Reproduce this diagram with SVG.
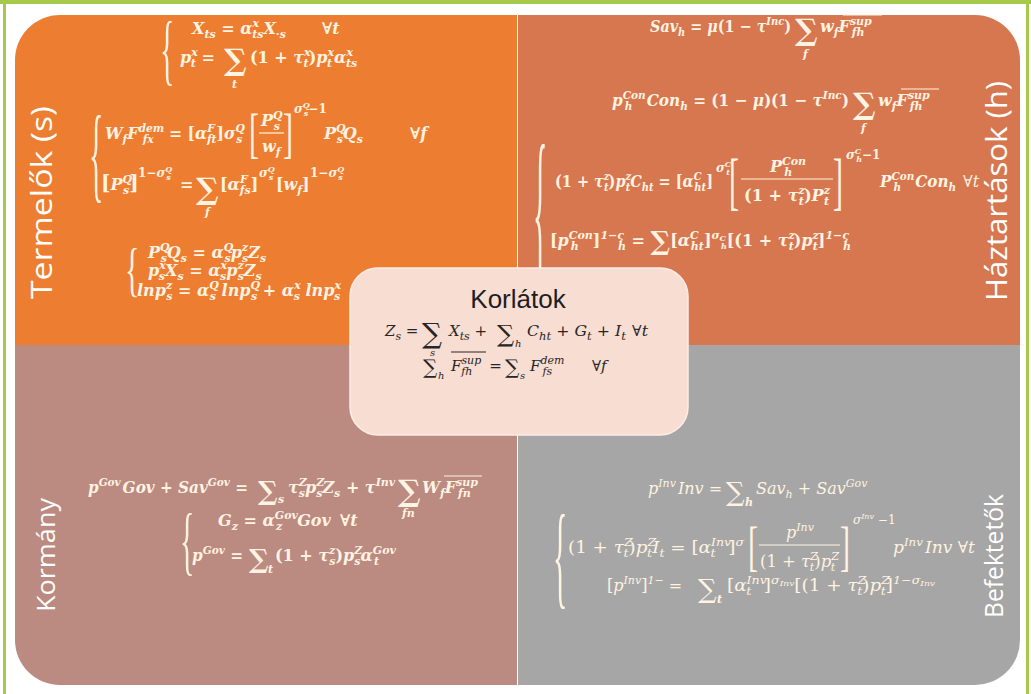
<svg xmlns="http://www.w3.org/2000/svg" width="1031" height="694" viewBox="0 0 1031 694">
<style>
.e{font-family:"DejaVu Serif","Liberation Serif",serif;font-style:italic;font-weight:bold;font-size:16px;fill:#FFF3E2}
.r{font-weight:normal}
.d{fill:#262626;font-weight:normal;font-size:15px}
.u{font-style:normal}
.p{font-size:11px;baseline-shift:7px}
.b{font-size:11px;baseline-shift:-4px}
.pp{font-size:8px;baseline-shift:5px}
.bb{font-size:8px;baseline-shift:-3px}
.sm{font-size:12px}
.S{font-style:normal}
.l{font-family:"DejaVu Serif",serif;font-style:italic;font-weight:bold;font-size:11px;fill:#FFF3E2}
.ld{font-family:"DejaVu Serif",serif;font-style:italic;font-size:10px;fill:#262626}
.br{font-family:"Liberation Serif",serif;font-style:normal;font-weight:normal;font-size:30px;fill:#FFF3E2}
.lab{font-family:"Open Sans","Liberation Sans",sans-serif;font-size:29px;fill:#FFFFFF}
.lab2{font-family:"Open Sans","Liberation Sans",sans-serif;font-size:25px;fill:#FFFFFF}
.fl{stroke:#FFF3E2;stroke-width:1.2}
.fd{stroke:#262626;stroke-width:1}
</style>
<rect width="1031" height="694" fill="#FFFFFF"/>
<g id="frame">
<rect x="0" y="0" width="1031" height="4" fill="#A4C94B"/>
<rect x="3" y="0" width="3" height="694" fill="#A4C94B"/>
<rect x="1026" y="0" width="3" height="694" fill="#A4C94B"/>
</g>
<g id="termelok">
<path d="M15,345 V60 A45,45 0 0 1 60,15 H517 V345 Z" fill="#ED7D31"/>
<text class="lab" transform="translate(52,299) rotate(-90)" textLength="193" lengthAdjust="spacingAndGlyphs">Termelők (s)</text>
<text class="br" transform="translate(160,76) scale(1,2.6)">{</text>
<text class="e" x="192" y="34">X<tspan class="b">ts</tspan><tspan class="u"> = </tspan>α<tspan class="p">x</tspan><tspan class="b" dx="-7">ts</tspan>X<tspan class="b">·s</tspan></text>
<text class="e" x="322" y="34">∀t</text>
<text class="e" x="180" y="63">p<tspan class="p">x</tspan><tspan class="b" dx="-7">t</tspan><tspan class="u"> = </tspan></text>
<text class="e S" x="224" y="70" style="font-size:30px">∑</text>
<text class="l" x="232" y="88">t</text>
<text class="e" x="250" y="63"><tspan class="u">(1 + </tspan>τ<tspan class="p">x</tspan><tspan class="b" dx="-7">t</tspan><tspan class="u">)</tspan>p<tspan class="p">x</tspan><tspan class="b" dx="-7">t</tspan><tspan dx="2">α</tspan><tspan class="p">x</tspan><tspan class="b" dx="-7">ts</tspan></text>
<text class="br" transform="translate(89,189) scale(1,3.56)">{</text>
<text class="e" x="105" y="139" textLength="140" lengthAdjust="spacingAndGlyphs">W<tspan class="b">f</tspan>F<tspan class="p">dem</tspan><tspan class="b" dx="-22">fx</tspan><tspan class="u" dx="10"> = [</tspan>α<tspan class="p">F</tspan><tspan class="b" dx="-8">ft</tspan><tspan class="u">]</tspan>σ<tspan class="p">Q</tspan><tspan class="b" dx="-9">s</tspan></text>
<text class="br" transform="translate(249,152) scale(1,1.86)">[</text>
<text class="e" x="261" y="126">P<tspan class="p">Q</tspan><tspan class="b" dx="-9">s</tspan></text>
<line class="fl" x1="259" y1="133" x2="284" y2="133"/>
<text class="e" x="262" y="152">w<tspan class="b">f</tspan></text>
<text class="br" transform="translate(283,152) scale(1,1.86)">]</text>
<text class="e sm" x="294" y="113">σ<tspan class="pp">Q</tspan><tspan class="bb" dx="-6">s</tspan><tspan class="u">−1</tspan></text>
<text class="e" x="324" y="139">P<tspan class="p">Q</tspan><tspan class="b" dx="-9">s</tspan>Q<tspan class="b">s</tspan></text>
<text class="e" x="410" y="139">∀f</text>
<text class="e" x="101" y="190"><tspan class="u" style="font-size:20px">[</tspan>P<tspan class="p">Q</tspan><tspan class="b" dx="-9">s</tspan><tspan class="u" style="font-size:20px">]</tspan></text>
<text class="e sm" x="138" y="177"><tspan class="u">1−</tspan>σ<tspan class="pp">Q</tspan><tspan class="bb" dx="-6">s</tspan></text>
<text class="e u" x="180" y="190">=</text>
<text class="e S" x="196" y="199" style="font-size:30px">∑</text>
<text class="l" x="205" y="216">f</text>
<text class="e" x="220" y="190"><tspan class="u">[</tspan>α<tspan class="p">F</tspan><tspan class="b" dx="-8">fs</tspan><tspan class="u">]</tspan></text>
<text class="e sm" x="259" y="177">σ<tspan class="pp">Q</tspan><tspan class="bb" dx="-6">s</tspan></text>
<text class="e" x="276" y="190"><tspan class="u">[</tspan>w<tspan class="b">f</tspan><tspan class="u">]</tspan></text>
<text class="e sm" x="310" y="177"><tspan class="u">1−</tspan>σ<tspan class="pp">Q</tspan><tspan class="bb" dx="-6">s</tspan></text>
<text class="br" transform="translate(125,289) scale(1,1.95)">{</text>
<text class="e" x="148" y="258">P<tspan class="p">Q</tspan><tspan class="b" dx="-9">s</tspan>Q<tspan class="b">s</tspan><tspan class="u"> = </tspan>α<tspan class="p">Q</tspan><tspan class="b" dx="-9">s</tspan>p<tspan class="p">z</tspan><tspan class="b" dx="-6">s</tspan>Z<tspan class="b">s</tspan></text>
<text class="e" x="148" y="276">p<tspan class="p">x</tspan><tspan class="b" dx="-7">s</tspan>X<tspan class="b">s</tspan><tspan class="u"> = </tspan>α<tspan class="p">x</tspan><tspan class="b" dx="-7">s</tspan>p<tspan class="p">z</tspan><tspan class="b" dx="-6">s</tspan>Z<tspan class="b">s</tspan></text>
<text class="e" x="137" y="296">lnp<tspan class="p">z</tspan><tspan class="b" dx="-6">s</tspan><tspan class="u"> = </tspan>α<tspan class="p">Q</tspan><tspan class="b" dx="-9">s</tspan> lnp<tspan class="p">Q</tspan><tspan class="b" dx="-9">s</tspan><tspan class="u"> + </tspan>α<tspan class="p">x</tspan><tspan class="b" dx="-7">s</tspan> lnp<tspan class="p">x</tspan><tspan class="b" dx="-7">s</tspan></text>
</g>
<g id="haztartasok">
<path d="M518,15 H975 A45,45 0 0 1 1020,60 V345 H518 Z" fill="#D7774F"/>
<text class="lab" transform="translate(1007,301) rotate(-90)" textLength="220" lengthAdjust="spacingAndGlyphs">Háztartások (h)</text>
<text class="e" x="650" y="32" textLength="141" lengthAdjust="spacingAndGlyphs">Sav<tspan class="b">h</tspan><tspan class="u"> = </tspan>μ<tspan class="u">(1 − </tspan>τ<tspan class="p">Inc</tspan><tspan class="u">)</tspan></text>
<text class="e S" x="795" y="40" style="font-size:30px">∑</text>
<text class="l" x="803" y="58">f</text>
<text class="e" x="820" y="32">w<tspan class="b">f</tspan>F<tspan class="p">sup</tspan><tspan class="b" dx="-20">fh</tspan></text>
<line class="fl" x1="843" y1="15" x2="882" y2="15"/>
<text class="e" x="612" y="106" textLength="237" lengthAdjust="spacingAndGlyphs">p<tspan class="p">Con</tspan><tspan class="b" dx="-22">h</tspan><tspan dx="15">Con</tspan><tspan class="b">h</tspan><tspan class="u"> = (1 − </tspan>μ<tspan class="u">)(1 − </tspan>τ<tspan class="p">Inc</tspan><tspan class="u">)</tspan></text>
<text class="e S" x="853" y="114" style="font-size:30px">∑</text>
<text class="l" x="861" y="132">f</text>
<text class="e" x="878" y="106">w<tspan class="b">f</tspan>F<tspan class="p">sup</tspan><tspan class="b" dx="-20">fh</tspan></text>
<line class="fl" x1="901" y1="89" x2="939" y2="89"/>
<text class="br" transform="translate(533,272) scale(1,6.13)">{</text>
<text class="e" x="555" y="187" textLength="158" lengthAdjust="spacingAndGlyphs"><tspan class="u">(1 + </tspan>τ<tspan class="p">z</tspan><tspan class="b" dx="-6">t</tspan><tspan class="u">)</tspan>p<tspan class="p">z</tspan><tspan class="b" dx="-6">t</tspan>C<tspan class="b">ht</tspan><tspan class="u"> = [</tspan>α<tspan class="p">C</tspan><tspan class="b" dx="-8">ht</tspan><tspan class="u">]</tspan></text>
<text class="e sm" x="716" y="172">σ<tspan class="pp">C</tspan><tspan class="bb" dx="-5">t</tspan></text>
<text class="br" transform="translate(729,202) scale(1,2.13)">[</text>
<text class="e" x="770" y="172">P<tspan class="p">Con</tspan><tspan class="b" dx="-22">h</tspan></text>
<line class="fl" x1="741" y1="179" x2="833" y2="179"/>
<text class="e" x="744" y="201" textLength="86" lengthAdjust="spacingAndGlyphs"><tspan class="u">(1 + </tspan>τ<tspan class="p">z</tspan><tspan class="b" dx="-6">t</tspan><tspan class="u">)</tspan>P<tspan class="p">z</tspan><tspan class="b" dx="-6">t</tspan></text>
<text class="br" transform="translate(833,202) scale(1,2.13)">]</text>
<text class="e sm" x="846" y="159">σ<tspan class="pp">C</tspan><tspan class="bb" dx="-5">h</tspan><tspan class="u">−1</tspan></text>
<text class="e" x="880" y="187" textLength="76" lengthAdjust="spacingAndGlyphs">P<tspan class="p">Con</tspan><tspan class="b" dx="-22">h</tspan><tspan dx="15">Con</tspan><tspan class="b">h</tspan></text>
<text class="e r" x="963" y="187">∀t</text>
<text class="e" x="550" y="246"><tspan class="u">[</tspan>p<tspan class="p">Con</tspan><tspan class="b" dx="-22">h</tspan><tspan class="u" dx="14">]</tspan><tspan class="p">1−ς</tspan><tspan class="b" dx="-6">h</tspan><tspan class="u"> = </tspan><tspan class="S" style="font-size:26px" baseline-shift="-4">∑</tspan><tspan class="u">[</tspan>α<tspan class="p">C</tspan><tspan class="b" dx="-8">ht</tspan><tspan class="u">]</tspan><tspan class="p">σ</tspan><tspan class="pp">C</tspan><tspan class="bb" dx="-5">h</tspan><tspan class="u">[(1 + </tspan>τ<tspan class="p">z</tspan><tspan class="b" dx="-6">t</tspan><tspan class="u">)</tspan>p<tspan class="p">z</tspan><tspan class="b" dx="-6">t</tspan><tspan class="u">]</tspan><tspan class="p">1−ς</tspan><tspan class="b" dx="-6">h</tspan></text>
</g>
<g id="kormany">
<path d="M15,345 H517 V685 H60 A45,45 0 0 1 15,640 Z" fill="#BB8A80"/>
<text class="lab2" transform="translate(55,612) rotate(-90)" textLength="114" lengthAdjust="spacingAndGlyphs">Kormány</text>
<text class="e" x="88" y="493" textLength="160" lengthAdjust="spacingAndGlyphs">p<tspan class="p">Gov</tspan><tspan dx="2">Gov</tspan><tspan class="u"> + </tspan>Sav<tspan class="p">Gov</tspan><tspan class="u"> =</tspan></text>
<text class="e S" x="258" y="500" style="font-size:26px">∑</text>
<text class="l" x="278" y="503">s</text>
<text class="e" x="288" y="493">τ<tspan class="p">Z</tspan><tspan class="b" dx="-8">s</tspan>p<tspan class="p">Z</tspan><tspan class="b" dx="-8">s</tspan>Z<tspan class="b">s</tspan><tspan class="u"> + </tspan>τ<tspan class="p">Inv</tspan></text>
<text class="e S" x="398" y="501" style="font-size:30px">∑</text>
<text class="l" x="402" y="517">fn</text>
<text class="e" x="422" y="493">W<tspan class="b">f</tspan>F<tspan class="p">sup</tspan><tspan class="b" dx="-20">fn</tspan></text>
<line class="fl" x1="444" y1="476" x2="482" y2="476"/>
<text class="br" transform="translate(180,566) scale(1,2.57)">{</text>
<text class="e" x="218" y="526">G<tspan class="b">z</tspan><tspan class="u"> = </tspan>α<tspan class="p">Gov</tspan><tspan class="b" dx="-22">z</tspan><tspan dx="15">Gov</tspan></text>
<text class="e" x="340" y="526">∀t</text>
<text class="e" x="192" y="561" textLength="51" lengthAdjust="spacingAndGlyphs">p<tspan class="p">Gov</tspan><tspan class="u"> =</tspan></text>
<text class="e S" x="249" y="568" style="font-size:26px">∑</text>
<text class="l" x="268" y="573">t</text>
<text class="e" x="275" y="561"><tspan class="u">(1 + </tspan>τ<tspan class="p">z</tspan><tspan class="b" dx="-6">s</tspan><tspan class="u">)</tspan>p<tspan class="p">Z</tspan><tspan class="b" dx="-8">s</tspan>α<tspan class="p">Gov</tspan><tspan class="b" dx="-22">t</tspan></text>
</g>
<g id="befektetok">
<path d="M518,345 H1020 V640 A45,45 0 0 1 975,685 H518 Z" fill="#A6A6A6"/>
<text class="lab2" transform="translate(1003,618) rotate(-90)" textLength="124" lengthAdjust="spacingAndGlyphs">Befektetők</text>
<text class="e r" x="648" y="494">p<tspan class="p">Inv</tspan><tspan dx="2">Inv</tspan><tspan class="u"> = </tspan></text>
<text class="e r S" x="726" y="501" style="font-size:26px">∑</text>
<text class="l r" x="745" y="506">h</text>
<text class="e r" x="756" y="494">Sav<tspan class="b">h</tspan><tspan class="u"> + </tspan>Sav<tspan class="p">Gov</tspan></text>
<text class="br" transform="translate(553,594) scale(1,3.83)">{</text>
<text class="e r" x="568" y="553" textLength="176" lengthAdjust="spacingAndGlyphs"><tspan class="u">(1 + </tspan>τ<tspan class="p">Z</tspan><tspan class="b" dx="-8">t</tspan><tspan class="u">)</tspan>p<tspan class="p">Z</tspan><tspan class="b" dx="-8">t</tspan>I<tspan class="b">t</tspan><tspan class="u"> = [</tspan>α<tspan class="p">Inv</tspan><tspan class="b" dx="-18">t</tspan><tspan class="u" dx="11">]</tspan><tspan class="p">σ</tspan></text>
<text class="br" transform="translate(748,565) scale(1,1.86)">[</text>
<text class="e r" x="786" y="538">p<tspan class="p">Inv</tspan></text>
<line class="fl" x1="759" y1="545" x2="840" y2="545"/>
<text class="e r" x="760" y="567" textLength="79" lengthAdjust="spacingAndGlyphs"><tspan class="u">(1 + </tspan>τ<tspan class="p">Z</tspan><tspan class="b" dx="-8">t</tspan><tspan class="u">)</tspan>p<tspan class="p">Z</tspan><tspan class="b" dx="-8">t</tspan></text>
<text class="br" transform="translate(840,565) scale(1,1.86)">]</text>
<text class="e r sm" x="853" y="524">σ<tspan class="pp">Inv</tspan><tspan class="u"> −1</tspan></text>
<text class="e r" x="893" y="553" textLength="82" lengthAdjust="spacingAndGlyphs">p<tspan class="p">Inv</tspan><tspan dx="2">Inv</tspan><tspan class="u"> </tspan>∀t</text>
<text class="e r" x="607" y="591"><tspan class="u">[</tspan>p<tspan class="p">Inv</tspan><tspan class="u">]</tspan><tspan class="p">1−</tspan><tspan class="u"> = </tspan></text>
<text class="e r S" x="698" y="598" style="font-size:26px">∑</text>
<text class="l r" x="717" y="603">t</text>
<text class="e r" x="727" y="591" textLength="208" lengthAdjust="spacingAndGlyphs"><tspan class="u">[</tspan>α<tspan class="p">Inv</tspan><tspan class="b" dx="-18">t</tspan><tspan class="u" dx="11">]</tspan><tspan class="p">σ</tspan><tspan class="pp">Inv</tspan><tspan class="u">[(1 + </tspan>τ<tspan class="p">Z</tspan><tspan class="b" dx="-8">t</tspan><tspan class="u">)</tspan>p<tspan class="p">Z</tspan><tspan class="b" dx="-8">t</tspan><tspan class="u">]</tspan><tspan class="p">1−σ</tspan><tspan class="pp">Inv</tspan></text>
</g>
<g id="korlatok">
<rect x="350" y="268" width="338" height="167" rx="28" fill="#F8DDD2" stroke="#FBEDE6" stroke-width="1.5"/>
<text x="518" y="308" text-anchor="middle" style="font-family:'Liberation Sans',sans-serif;font-size:26px;fill:#1E1E1E">Korlátok</text>
<text class="e d" x="385" y="336">Z<tspan class="b">s</tspan><tspan class="u"> =</tspan></text>
<text class="e d S" x="422" y="343" style="font-size:28px">∑</text>
<text class="ld" x="430" y="356">s</text>
<text class="e d" x="449" y="336">X<tspan class="b">ts</tspan><tspan class="u"> +</tspan></text>
<text class="e d S" x="497" y="342" style="font-size:24px">∑</text>
<text class="ld" x="515" y="347">h</text>
<text class="e d" x="527" y="336" textLength="121" lengthAdjust="spacingAndGlyphs">C<tspan class="b">ht</tspan><tspan class="u"> + </tspan>G<tspan class="b">t</tspan><tspan class="u"> + </tspan>I<tspan class="b">t</tspan><tspan dx="6">∀t</tspan></text>
<text class="e d S" x="423" y="374" style="font-size:20px">∑</text>
<text class="ld" x="438" y="379">h</text>
<text class="e d" x="451" y="371">F<tspan class="p">sup</tspan><tspan class="b" dx="-20">fh</tspan><tspan class="u" dx="12"> =</tspan></text>
<line class="fd" x1="451" y1="352" x2="486" y2="352"/>
<text class="e d S" x="505" y="374" style="font-size:20px">∑</text>
<text class="ld" x="520" y="379">s</text>
<text class="e d" x="530" y="371">F<tspan class="p">dem</tspan><tspan class="b" dx="-22">fs</tspan></text>
<text class="e d" x="592" y="371">∀f</text>
</g>
</svg>
